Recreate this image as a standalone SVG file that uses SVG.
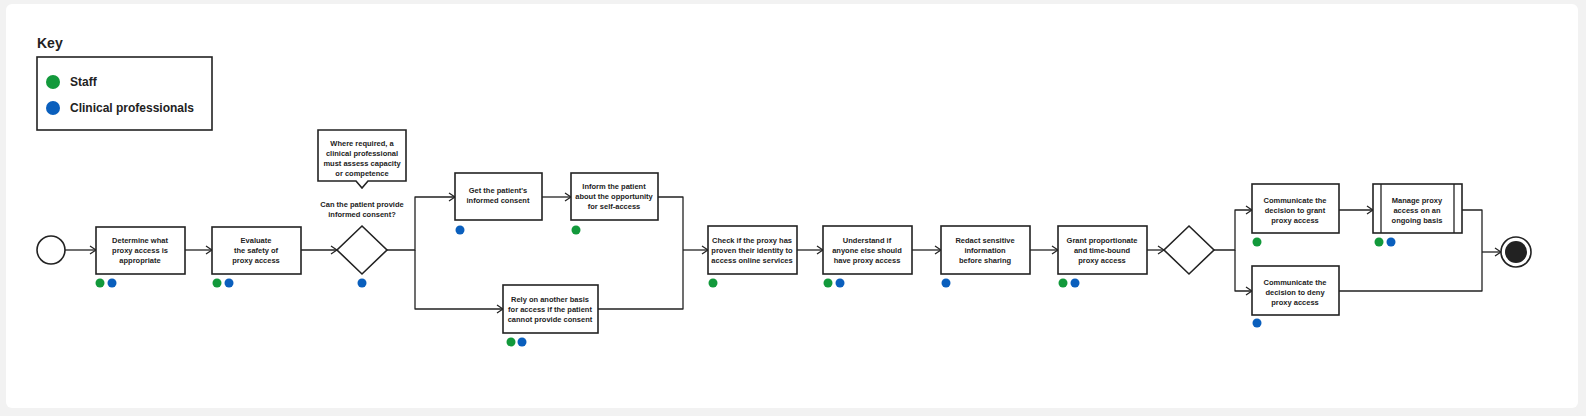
<svg xmlns="http://www.w3.org/2000/svg" width="1586" height="416" viewBox="0 0 1586 416">
<style>
text{font-family:"Liberation Sans",Arial,sans-serif;font-weight:bold;fill:#222;font-size:7.5px;text-anchor:middle}
.box{fill:#fff;stroke:#222;stroke-width:1.6}
.ln{fill:none;stroke:#222;stroke-width:1.3;stroke-linejoin:round}
.g{fill:#12993b}.b{fill:#0a5fbd}
</style>
<defs><marker id="a" markerWidth="8" markerHeight="10" refX="7" refY="5" orient="auto" markerUnits="userSpaceOnUse"><polyline points="1,1 7,5 1,9" fill="none" stroke="#222" stroke-width="1.3"/></marker></defs>
<rect width="1586" height="416" fill="#f2f2f2"/>
<rect x="6" y="4" width="1572" height="404" rx="6" fill="#fff"/>
<g id="key">
<text x="37" y="48" style="font-size:14px;text-anchor:start">Key</text>
<rect class="box" x="37" y="57" width="175" height="73"/>
<circle class="g" cx="53" cy="82" r="7"/><text x="70" y="86" style="font-size:12px;text-anchor:start">Staff</text>
<circle class="b" cx="53" cy="108" r="7"/><text x="70" y="112" style="font-size:12px;text-anchor:start">Clinical professionals</text>
</g>
<g id="connectors">
<line class="ln" x1="65" y1="250" x2="96" y2="250" marker-end="url(#a)"/>
<line class="ln" x1="185" y1="250" x2="212" y2="250" marker-end="url(#a)"/>
<line class="ln" x1="301" y1="250" x2="337" y2="250" marker-end="url(#a)"/>
<path class="ln" d="M387 250H415V197H455" marker-end="url(#a)"/>
<path class="ln" d="M415 250V309H503" marker-end="url(#a)"/>
<line class="ln" x1="542" y1="197" x2="571" y2="197" marker-end="url(#a)"/>
<path class="ln" d="M658 197H683V309H598"/>
<line class="ln" x1="683" y1="250" x2="708" y2="250" marker-end="url(#a)"/>
<line class="ln" x1="797" y1="250" x2="823" y2="250" marker-end="url(#a)"/>
<line class="ln" x1="912" y1="250" x2="941" y2="250" marker-end="url(#a)"/>
<line class="ln" x1="1030" y1="250" x2="1058" y2="250" marker-end="url(#a)"/>
<line class="ln" x1="1147" y1="250" x2="1164" y2="250" marker-end="url(#a)"/>
<path class="ln" d="M1214 250H1235V210H1252" marker-end="url(#a)"/>
<path class="ln" d="M1235 250V291H1252" marker-end="url(#a)"/>
<line class="ln" x1="1339" y1="210" x2="1373" y2="210" marker-end="url(#a)"/>
<path class="ln" d="M1462 210H1482V291H1339"/>
<line class="ln" x1="1482" y1="252" x2="1501" y2="252" marker-end="url(#a)"/>
</g>
<g id="start"><circle cx="51" cy="250" r="14" class="box"/></g>
<g id="n1"><rect class="box" x="96" y="227" width="89" height="47"/><text x="140" y="243">Determine what</text><text x="140" y="253">proxy access is</text><text x="140" y="263">appropriate</text><circle class="g" cx="100" cy="283" r="4.5"/><circle class="b" cx="112" cy="283" r="4.5"/></g>
<g id="n2"><rect class="box" x="212" y="227" width="89" height="47"/><text x="256" y="243">Evaluate</text><text x="256" y="253">the safety of</text><text x="256" y="263">proxy access</text><circle class="g" cx="217" cy="283" r="4.5"/><circle class="b" cx="229" cy="283" r="4.5"/></g>
<g id="callout"><path class="box" d="M318 130H406V181H368L362 188L356 181H318Z"/><text x="362" y="146">Where required, a</text><text x="362" y="156">clinical professional</text><text x="362" y="166">must assess capacity</text><text x="362" y="176">or competence</text></g>
<g id="d1"><text x="362" y="207">Can the patient provide</text><text x="362" y="217">informed consent?</text><path class="box" d="M362 226L387 250L362 274L337 250Z"/><circle class="b" cx="362" cy="283" r="4.5"/></g>
<g id="n3"><rect class="box" x="455" y="173" width="87" height="47"/><text x="498" y="193">Get the patient's</text><text x="498" y="203">informed consent</text><circle class="b" cx="460" cy="230" r="4.5"/></g>
<g id="n4"><rect class="box" x="571" y="173" width="87" height="47"/><text x="614" y="189">Inform the patient</text><text x="614" y="199">about the opportunity</text><text x="614" y="209">for self-access</text><circle class="g" cx="576" cy="230" r="4.5"/></g>
<g id="n5"><rect class="box" x="503" y="285" width="95" height="48"/><text x="550" y="302">Rely on another basis</text><text x="550" y="312">for access if the patient</text><text x="550" y="322">cannot provide consent</text><circle class="g" cx="511" cy="342" r="4.5"/><circle class="b" cx="522" cy="342" r="4.5"/></g>
<g id="n6"><rect class="box" x="708" y="226" width="89" height="48"/><text x="752" y="243">Check if the proxy has</text><text x="752" y="253">proven their identity to</text><text x="752" y="263">access online services</text><circle class="g" cx="713" cy="283" r="4.5"/></g>
<g id="n7"><rect class="box" x="823" y="226" width="89" height="48"/><text x="867" y="243">Understand if</text><text x="867" y="253">anyone else should</text><text x="867" y="263">have proxy access</text><circle class="g" cx="828" cy="283" r="4.5"/><circle class="b" cx="840" cy="283" r="4.5"/></g>
<g id="n8"><rect class="box" x="941" y="226" width="89" height="48"/><text x="985" y="243">Redact sensitive</text><text x="985" y="253">information</text><text x="985" y="263">before sharing</text><circle class="b" cx="946" cy="283" r="4.5"/></g>
<g id="n9"><rect class="box" x="1058" y="226" width="89" height="48"/><text x="1102" y="243">Grant proportionate</text><text x="1102" y="253">and time-bound</text><text x="1102" y="263">proxy access</text><circle class="g" cx="1063" cy="283" r="4.5"/><circle class="b" cx="1075" cy="283" r="4.5"/></g>
<g id="d2"><path class="box" d="M1189 226L1214 250L1189 274L1164 250Z"/></g>
<g id="n10"><rect class="box" x="1252" y="184" width="87" height="49"/><text x="1295" y="203">Communicate the</text><text x="1295" y="213">decision to grant</text><text x="1295" y="223">proxy access</text><circle class="g" cx="1257" cy="242" r="4.5"/></g>
<g id="n11"><rect class="box" x="1373" y="184" width="89" height="49"/><line class="ln" x1="1381" y1="184" x2="1381" y2="233"/><line class="ln" x1="1454" y1="184" x2="1454" y2="233"/><text x="1417" y="203">Manage proxy</text><text x="1417" y="213">access on an</text><text x="1417" y="223">ongoing basis</text><circle class="g" cx="1379" cy="242" r="4.5"/><circle class="b" cx="1391" cy="242" r="4.5"/></g>
<g id="n12"><rect class="box" x="1252" y="266" width="87" height="49"/><text x="1295" y="285">Communicate the</text><text x="1295" y="295">decision to deny</text><text x="1295" y="305">proxy access</text><circle class="b" cx="1257" cy="323" r="4.5"/></g>
<g id="end"><circle class="box" cx="1516" cy="252" r="15"/><circle cx="1516" cy="252" r="11" fill="#222"/></g>
</svg>
